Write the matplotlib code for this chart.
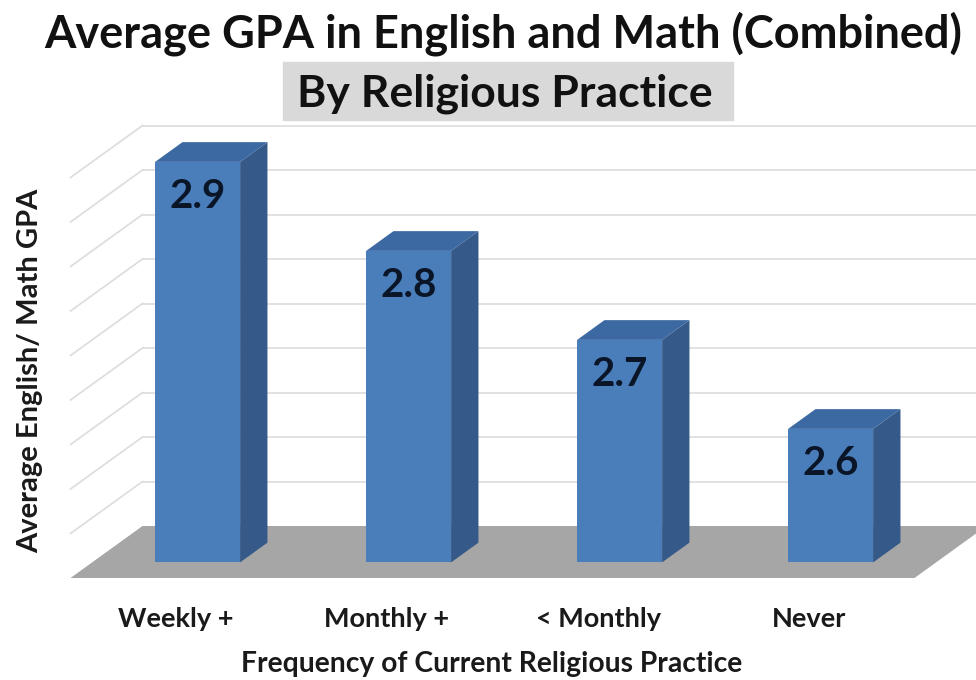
import numpy as np
import matplotlib
matplotlib.use("Agg")
import matplotlib.pyplot as plt
from matplotlib.patches import Rectangle

plt.rcParams['font.family'] = ['Lato', 'DejaVu Sans']
plt.rcParams['font.weight'] = 'bold'

# data
categories = ['Weekly +', 'Monthly +', '< Monthly', 'Never']
gpa = [2.9, 2.8, 2.7, 2.6]
gpa_labels = ['2.9', '2.8', '2.7', '2.6']
grid_vals = [2.5, 2.55, 2.6, 2.65, 2.7, 2.75, 2.8, 2.85, 2.9]
base = 2.45

# fake 3d: depth d in [0, 1] shifts x and y
kx = 72 / 211          # category units per unit depth
kv = 52 / 890          # value units per unit depth
bar_w = 85 / 211
d_front, d_back = 0.3, 0.68

def proj(x, v, d):
    return x + d * kx, v + d * kv

fig = plt.figure(figsize=(9.76, 6.8), dpi=100)
ax = fig.add_axes([60 / 976, 102 / 680, 916 / 976, 578 / 680])
ax.set_xlim((60 - 176) / 211, (976 - 176) / 211)
ax.set_ylim(base, base + 578 / 890)
for s in ax.spines.values():
    s.set_visible(False)
ax.set_yticks([])

# walls: grid lines on back and side
grid_c = '#dcdcdc'
for g in grid_vals:
    xa, ya = proj(-0.5, g, 0)
    xb, yb = proj(-0.5, g, 1)
    xc, yc = proj(3.7, g, 1)
    ax.plot([xa, xb], [ya, yb], color=grid_c, lw=1.2, zorder=1)
    ax.plot([xb, xc], [yb, yc], color=grid_c, lw=1.2, zorder=1)

# floor
fl = [proj(-0.5, base, 0), proj(3.5, base, 0), proj(3.5, base, 1), proj(-0.5, base, 1)]
ax.fill([p[0] for p in fl], [p[1] for p in fl], color='#a6a6a6', lw=0, zorder=2)

front_c, top_c, side_c = '#4a7ebb', '#3d69a3', '#355a8a'
xs = np.arange(len(categories))
fx, fb = proj(xs, base, d_front)
ax.bar(fx, np.array(gpa) - base, bottom=fb, width=bar_w, color=front_c,
       lw=0, zorder=4)
for i, v in enumerate(gpa):
    x0, x1 = i - bar_w / 2, i + bar_w / 2
    top = [proj(x0, v, d_front), proj(x1, v, d_front), proj(x1, v, d_back), proj(x0, v, d_back)]
    side = [proj(x1, base, d_front), proj(x1, base, d_back), proj(x1, v, d_back), proj(x1, v, d_front)]
    ax.fill([p[0] for p in top], [p[1] for p in top], color=top_c, lw=0, zorder=3)
    ax.fill([p[0] for p in side], [p[1] for p in side], color=side_c, lw=0, zorder=3)
    tx, ty = proj(i, v, d_front)
    ax.annotate(gpa_labels[i], (tx, ty), xytext=(0, -33), textcoords='offset points',
                ha='center', va='baseline', fontsize=29, fontweight='bold',
                color='#0a1628', zorder=5)

ax.set_xticks(xs, categories)
ax.tick_params(axis='x', length=0, pad=21, labelsize=19.5)
for t in ax.get_xticklabels():
    t.set_color('#1a1a1a')
    t.set_fontweight('bold')
ax.set_xlabel('Frequency of Current Religious Practice', fontsize=20.3,
              fontweight='bold', color='#1a1a1a')
ax.xaxis.set_label_coords((492 - 60) / 916, (680 - 651 - 102) / 578)
ax.set_ylabel('Average English/ Math GPA', fontsize=21, fontweight='bold',
              color='#1a1a1a')
ax.yaxis.set_label_coords((43 - 60) / 916, (680 - 371 - 102) / 578)

# titles
fig.text(503 / 976, 1 - 47 / 680, 'Average GPA in English and Math (Combined)',
         ha='center', va='baseline', fontsize=32.5, fontweight='bold', color='#111111')
fig.patches.append(Rectangle((283 / 976, 1 - 120 / 680), 450 / 976, 58 / 680,
                             transform=fig.transFigure, color='#d9d9d9', zorder=0))
fig.text(505 / 976, 1 - 107 / 680, 'By Religious Practice',
         ha='center', va='baseline', fontsize=32, fontweight='bold', color='#111111')

fig.savefig('out.png', dpi=100)
